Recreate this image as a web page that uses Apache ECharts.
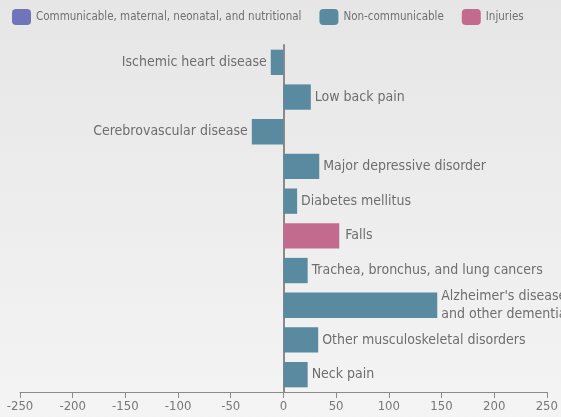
<!DOCTYPE html>
<html>
<head>
<meta charset="utf-8">
<script src="https://cdn.jsdelivr.net/npm/echarts@6/dist/echarts.min.js"></script>
<style>
  html, body { margin: 0; padding: 0; background: #ececec; }
  #chart { width: 561px; height: 417px; }
</style>
</head>
<body>
<div id="chart"></div>
<script>
var causes = ['Ischemic heart disease', 'Low back pain', 'Cerebrovascular disease',
  'Major depressive disorder', 'Diabetes mellitus', 'Falls',
  'Trachea, bronchus, and lung cancers', "Alzheimer's disease\nand other dementias",
  'Other musculoskeletal disorders', 'Neck pain'];
var groups = ['Communicable, maternal, neonatal, and nutritional', 'Non-communicable', 'Injuries'];
var groupOf = [1, 1, 1, 1, 1, 2, 1, 1, 1, 1];
var changes = [-12, 26, -30, 34, 13, 53, 23, 146, 33, 23];
var colors = ['#7075b9', '#5a8a9f', '#c36b8f'];
var ticks = [-250, 250, 50];

var font = '"DejaVu Sans Condensed", "Liberation Sans Narrow", sans-serif';

var series = groups.map(function (g, gi) {
  return {
    name: g,
    type: 'bar',
    stack: 'all',
    barCategoryGap: '27%',
    itemStyle: { color: colors[gi] },
    data: changes.map(function (v, i) {
      if (groupOf[i] !== gi) return '-';
      return {
        value: v,
        label: {
          show: true,
          position: v < 0 ? 'left' : 'right',
          distance: i === 5 ? 6 : 4,
          formatter: '{b}',
          color: '#6e6e6e',
          fontSize: 14,
          lineHeight: 18,
          fontFamily: font
        }
      };
    })
  };
});

var chart = echarts.init(document.getElementById('chart'));
chart.setOption({
  backgroundColor: {
    type: 'linear', x: 0, y: 0, x2: 0, y2: 1,
    colorStops: [{ offset: 0, color: '#e6e6e6' }, { offset: 1, color: '#f4f4f4' }]
  },
  animation: false,
  legend: {
    left: 7, top: 4,
    width: 1200,
    icon: 'roundRect',
    itemWidth: 19, itemHeight: 16, itemGap: 18,
    textStyle: { color: '#707070', fontSize: 11.5, fontFamily: font },
    data: groups
  },
  grid: { left: 20, right: 13, top: 45, bottom: 25 },
  xAxis: {
    type: 'value',
    min: ticks[0], max: ticks[1], interval: ticks[2],
    splitLine: { show: false },
    axisLine: { show: true, onZero: false, lineStyle: { color: '#8a8a8a' } },
    axisTick: { show: true, length: 6, lineStyle: { color: '#8a8a8a' } },
    axisLabel: { color: '#777', fontSize: 13, fontFamily: font, margin: 8 }
  },
  yAxis: {
    type: 'category',
    inverse: true,
    data: causes,
    axisLine: { show: true, onZero: true, lineStyle: { color: '#8a8a8a', width: 2 } },
    axisTick: { show: false },
    axisLabel: { show: false }
  },
  series: series
});
</script>
</body>
</html>
